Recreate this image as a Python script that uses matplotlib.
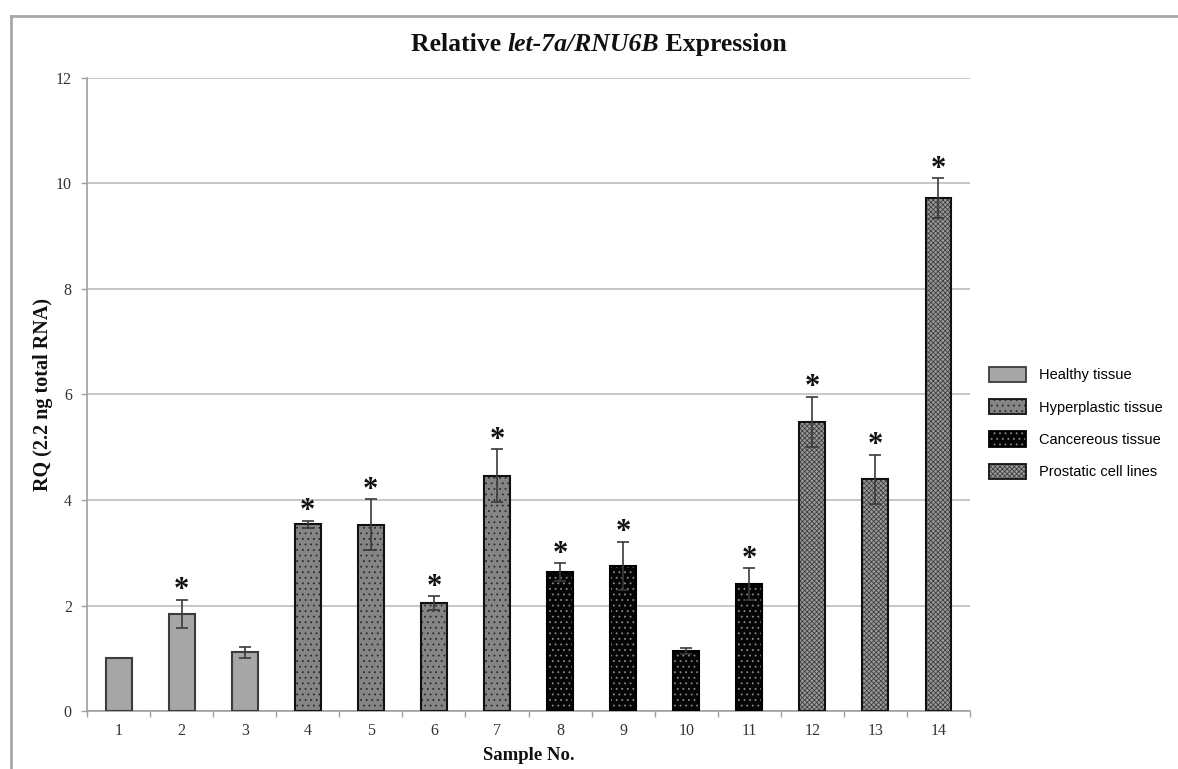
import matplotlib
matplotlib.use("Agg")
import matplotlib.pyplot as plt
from matplotlib.patches import Patch
from matplotlib.lines import Line2D
from matplotlib.legend_handler import HandlerTuple

# relative let-7a expression per sample (RQ, normalised to RNU6B)
samples = list(range(1, 15))
rq = [1.00, 1.84, 1.11, 3.54, 3.53, 2.05, 4.46, 2.63, 2.75, 1.14, 2.41, 5.48, 4.39, 9.72]
rq_err = [0.0, 0.27, 0.10, 0.07, 0.48, 0.13, 0.50, 0.17, 0.46, 0.06, 0.30, 0.48, 0.47, 0.38]
groups = (["Healthy tissue"] * 3 + ["Hyperplastic tissue"] * 4 +
          ["Cancereous tissue"] * 4 + ["Prostatic cell lines"] * 3)
significant = [False, True, False, True, True, True, True,
               True, True, False, True, True, True, True]
group_names = ["Healthy tissue", "Hyperplastic tissue",
               "Cancereous tissue", "Prostatic cell lines"]

# face colour, hatch, hatch colour, edge colour
styles = {
    "Healthy tissue": ("#a6a6a6", "", "none", "#3c3c3c"),
    "Hyperplastic tissue": ("#858585", "...", "#2a2a2a", "#111111"),
    "Cancereous tissue": ("#050505", "...", "#8a8a8a", "#000000"),
    "Prostatic cell lines": ("#9a9a9a", "xxxxxxx", "#404040", "#111111"),
}

plt.rcParams["hatch.linewidth"] = 0.6
serif = "Liberation Serif"

fig = plt.figure(figsize=(11.78, 7.69), dpi=100)
ax = fig.add_axes([0.0739, 0.0754, 0.7495, 0.8232])

width = 0.41
for g in group_names:
    fc, hatch, hc, ec = styles[g]
    xs = [s for s, gg in zip(samples, groups) if gg == g]
    ys = [v for v, gg in zip(rq, groups) if gg == g]
    ax.bar(xs, ys, width, color=fc, linewidth=0, zorder=2)
    if hatch:
        ax.bar(xs, ys, width, facecolor="none", edgecolor=hc, hatch=hatch,
               linewidth=0, zorder=3)
    ax.bar(xs, ys, width, facecolor="none", edgecolor=ec, linewidth=1.5, zorder=4)

# error bars (sample 1 is the calibrator, no spread)
err_x = [s for s, e in zip(samples, rq_err) if e > 0]
err_y = [v for v, e in zip(rq, rq_err) if e > 0]
err_e = [e for e in rq_err if e > 0]
ax.errorbar(err_x, err_y, yerr=err_e, fmt="none", ecolor="#3a3a3a",
            elinewidth=1.2, capsize=4, capthick=1.2, zorder=5)

for s, v, e, sig in zip(samples, rq, rq_err, significant):
    if sig:
        ax.annotate("*", xy=(s, v + e), xytext=(0, 1), textcoords="offset points",
                    ha="center", va="baseline", fontsize=22, fontweight="bold",
                    family=serif, color="#111111")

ax.set_xlim(0.5, 14.5)
ax.set_ylim(0, 12)
ax.set_yticks(range(0, 13, 2))
ax.set_xticks(samples)
ax.set_xticks([i + 0.5 for i in range(0, 15)], minor=True)
ax.grid(axis="y", color="#bdbdbd", linewidth=1.2, zorder=0)
ax.set_axisbelow(True)
for side in ["top", "right"]:
    ax.spines[side].set_visible(False)
for side in ["left", "bottom"]:
    ax.spines[side].set_color("#a0a0a0")
    ax.spines[side].set_linewidth(1.2)

ax.tick_params(axis="x", which="major", length=0, pad=8.5, labelsize=11.5,
               labelcolor="#333333")
ax.tick_params(axis="x", which="minor", length=4, width=1, color="#a0a0a0",
               direction="out")
ax.tick_params(axis="y", length=4, width=1, color="#a0a0a0", direction="out",
               pad=7, labelsize=11.5, labelcolor="#333333")
for lab in ax.get_xticklabels() + ax.get_yticklabels():
    lab.set_family(serif)

ax.set_xlabel("Sample No.", family=serif, fontsize=13.5, fontweight="bold",
              color="#111111", va="center")
ax.xaxis.set_label_coords(0.5, -0.0695)
ax.set_ylabel("RQ (2.2 ng total RNA)", family=serif, fontsize=14.5,
              fontweight="bold", color="#111111", va="center")
ax.yaxis.set_label_coords(-0.0498, 0.5)

# legend: fill, hatch and outline stacked in one handle
handles = []
for g in group_names:
    fc, hatch, hc, ec = styles[g]
    layers = [Patch(facecolor=fc, linewidth=0)]
    if hatch:
        layers.append(Patch(facecolor="none", edgecolor=hc, hatch=hatch, linewidth=0))
    layers.append(Patch(facecolor="none", edgecolor=ec, linewidth=1.3))
    handles.append(tuple(layers))
fig.legend(handles, group_names,
           handler_map={tuple: HandlerTuple(ndivide=1, pad=0)},
           loc="center left", bbox_to_anchor=(0.8396, 0.45), frameon=False,
           borderpad=0, borderaxespad=0, handlelength=2.55, handleheight=1.25,
           handletextpad=0.9, labelspacing=1.15,
           prop={"family": "Liberation Sans", "size": 10.5})

# title with italic gene names, built from three pieces
tkw = dict(fontsize=18.5, fontweight="bold", family=serif, color="#111111")
t1 = fig.text(0.3, 0.927, "Relative ", va="bottom", **tkw)
t2 = ax.annotate("let-7a/RNU6B", xy=(1, 0), xycoords=t1, va="bottom",
                 style="italic", annotation_clip=False, **tkw)
t3 = ax.annotate(" Expression", xy=(1, 0), xycoords=t2, va="bottom",
                 annotation_clip=False, **tkw)
fig.canvas.draw()
r = fig.canvas.get_renderer()
x0 = t1.get_window_extent(r).x0
x1 = t3.get_window_extent(r).x1
fw = fig.get_figwidth() * fig.dpi
t1.set_x(0.3 + (599 - (x0 + x1) / 2) / fw)

# outer chart frame (top and left edges)
fig.add_artist(Line2D([11 / 1178, 11 / 1178], [0, 1 - 16 / 769],
                      transform=fig.transFigure, color="#a8a8a8", linewidth=2))
fig.add_artist(Line2D([11 / 1178, 1], [1 - 16 / 769, 1 - 16 / 769],
                      transform=fig.transFigure, color="#a8a8a8", linewidth=2))

fig.savefig("out.png", dpi=100)
